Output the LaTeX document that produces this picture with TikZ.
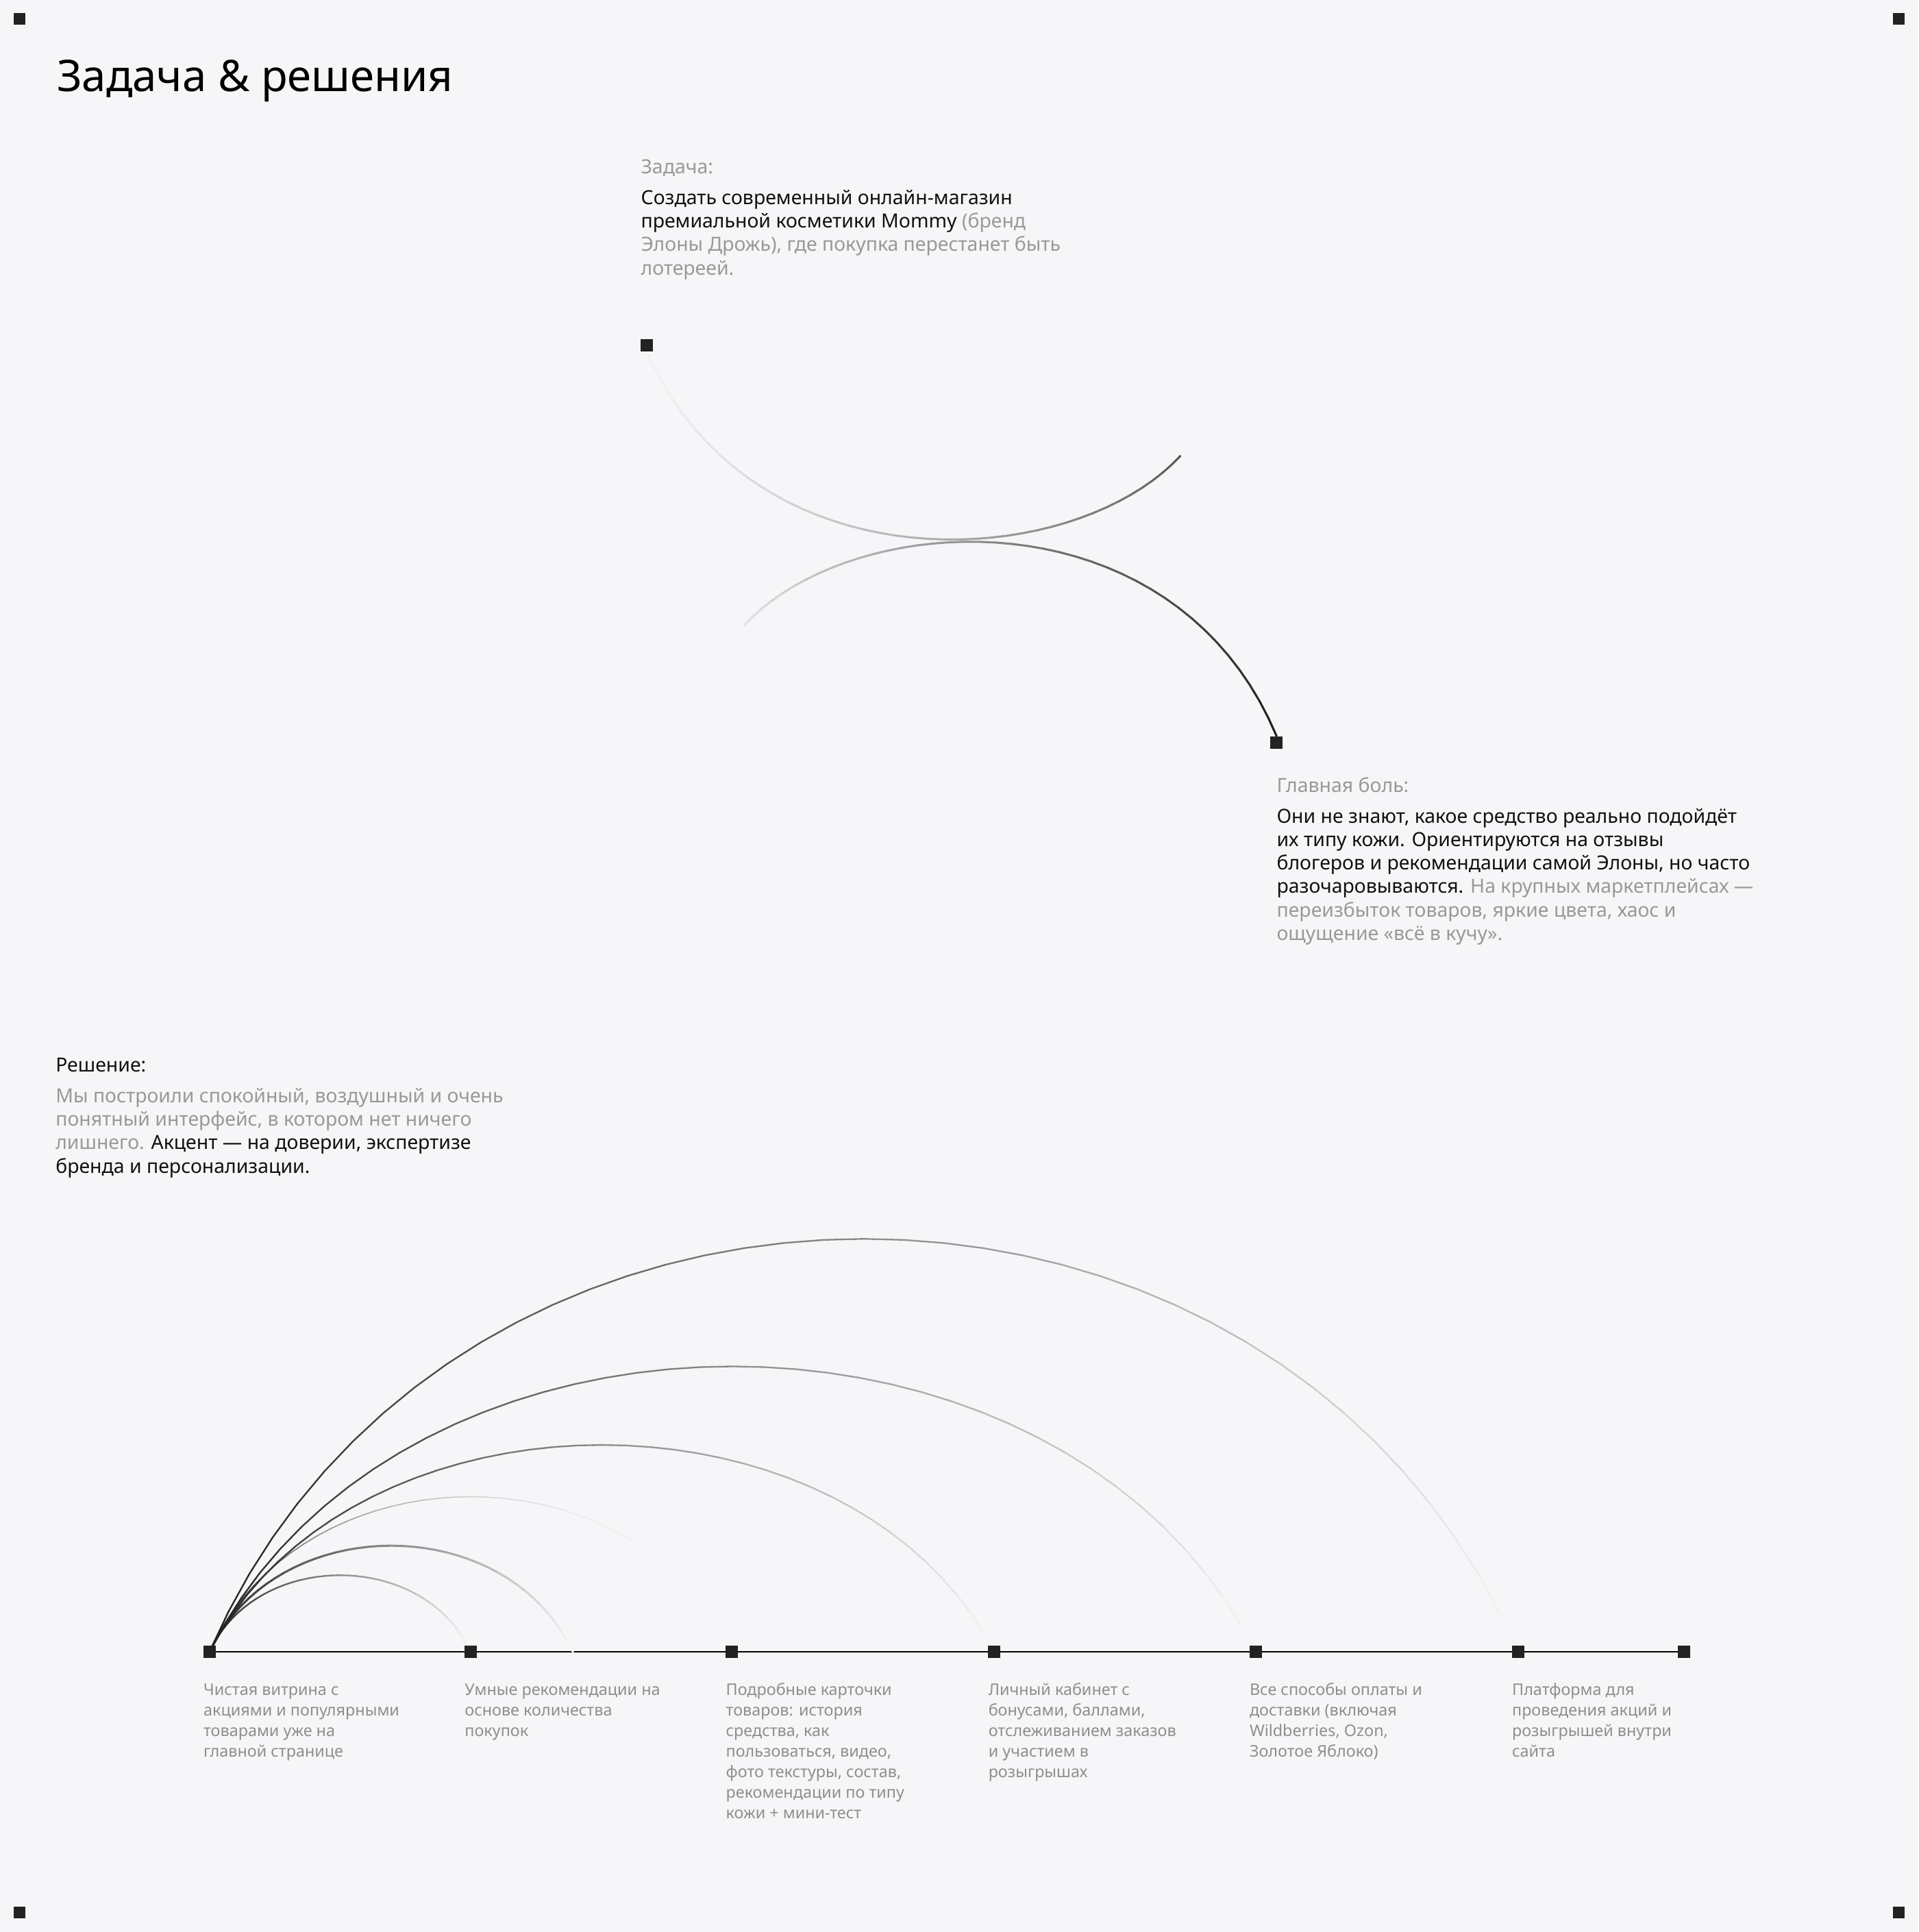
\documentclass[tikz,border=0pt]{standalone}
\usepackage{fontspec}
\setmainfont{Noto Sans}
\usetikzlibrary{backgrounds}

\definecolor{bgc}{HTML}{F6F6F8}
\definecolor{sqc}{HTML}{222222}
\definecolor{dimc}{HTML}{999999}
\definecolor{inkc}{HTML}{111111}
\definecolor{notec}{HTML}{8E8E8E}

\tikzset{
  sq/.style={fill=sqc, minimum size=10pt, inner sep=0pt},
  corner/.style={fill=sqc, minimum size=9.5pt, inner sep=0pt},
  para/.style={anchor=base west, inner sep=0pt, align=left, text=inkc, font=\fontsize{15.8}{19}\selectfont},
  note/.style={anchor=base west, inner sep=0pt, align=left, text=notec, font=\fontsize{13}{16.7}\selectfont},
  seg/.style={line width=1.7pt, line cap=round},
}

\begin{document}
\begin{tikzpicture}[x=1pt,y=-1pt]

% corner marks
\node[corner] (c1) at (16,15.5) {};
\node[corner] (c2) at (1541,15.5) {};
\node[corner] (c3) at (16,1552) {};
\node[corner] (c4) at (1541,1552) {};

\node[anchor=base west, inner sep=0pt, font=\fontsize{35.3}{40}\selectfont] (title) at (46,74) {Задача \& решения};

% task (multi-line nodes sit on their last baseline)
\node[para, text=dimc] (taskhead) at (520,141) {Задача:};
\node[para] (task) at (520,223) {Создать современный онлайн-магазин\\премиальной косметики Mommy \textcolor{dimc}{(бренд}\\\textcolor{dimc}{Элоны Дрожь), где покупка перестанет быть}\\\textcolor{dimc}{лотереей.}};

% pain
\node[para, text=dimc] (painhead) at (1036,643) {Главная боль:};
\node[para] (pain) at (1036,763) {Они не знают, какое средство реально подойдёт\\их типу кожи. Ориентируются на отзывы\\блогеров и рекомендации самой Элоны, но часто\\разочаровываются. \textcolor{dimc}{На крупных маркетплейсах —}\\\textcolor{dimc}{переизбыток товаров, яркие цвета, хаос и}\\\textcolor{dimc}{ощущение «всё в кучу».}};

% solution
\node[para] (solhead) at (45,870) {Решение:};
\node[para, text=dimc] (sol) at (45,952) {Мы построили спокойный, воздушный и очень\\понятный интерфейс, в котором нет ничего\\лишнего. \textcolor{inkc}{Акцент — на доверии, экспертизе}\\\textcolor{inkc}{бренда и персонализации.}};

\node[sq] (tA) at (525,280) {};
\node[sq] (tB) at (1036,602.5) {};
\coordinate (aEnd) at (958,370);
\coordinate (bStart) at (604,507.5);

% timeline
\foreach \n/\x in {0/170,1/382,2/594,3/807,4/1019,5/1232,6/1366.5}
  \node[sq] (s\n) at (\x,1340.7) {};
\coordinate (m2) at (465,1340.7);

\node[note] (n0) at (165,1426.1) {Чистая витрина с\\акциями и популярными\\товарами уже на\\главной странице};
\node[note] (n1) at (377,1409.4) {Умные рекомендации на\\основе количества\\покупок};
\node[note] (n2) at (589,1476.2) {Подробные карточки\\товаров: история\\средства, как\\пользоваться, видео,\\фото текстуры, состав,\\рекомендации по типу\\кожи + мини-тест};
\node[note] (n3) at (802,1442.8) {Личный кабинет с\\бонусами, баллами,\\отслеживанием заказов\\и участием в\\розыгрышах};
\node[note] (n4) at (1014,1426.1) {Все способы оплаты и\\доставки (включая\\Wildberries, Ozon,\\Золотое Яблоко)};
\node[note] (n5) at (1227,1426.1) {Платформа для\\проведения акций и\\розыгрышей внутри\\сайта};

\begin{scope}[on background layer]
  \fill[bgc] (0,0) rectangle (1557,1568);

  % upper pair of curves
  \path (tA.south) .. controls (610,480) and (870,465) .. (aEnd)
    \foreach \i in {0,...,40}{coordinate[pos=\i/40] (a\i)};
  \foreach \i [evaluate=\i as \j using int(\i+1), evaluate=\i as \c using int(2+62*(\i/39)^1.3)] in {0,...,39}
    \draw[seg, black!\c!bgc] (a\i) -- (a\j);
  \path (bStart) .. controls (692,412) and (952,397) .. (tB.north)
    \foreach \i in {0,...,40}{coordinate[pos=\i/40] (b\i)};
  \foreach \i [evaluate=\i as \j using int(\i+1), evaluate=\i as \c using int(8+80*\i/39)] in {0,...,39}
    \draw[seg, black!\c!bgc] (b\i) -- (b\j);

  \draw[line width=1.2pt, black] (s0.center) -- (s6.center);

  % arcs
  \foreach \k/\e/\a/\h/\p/\lw in {1/s1/38/83/1/1.3, 2/m2/54/115/1/1.7, 3/s2/77/168/2.5/0.9, 4/s3/116/224/1/1.3, 5/s4/155/309/1/1.3, 6/s5/194/447/1/1.3}{
    \path (s0.center) .. controls +(\a,-\h) and +(-\a,-\h) .. (\e.center)
      \foreach \i in {0,...,40}{coordinate[pos=\i/40] (q\k-\i)};
    \foreach \i [evaluate=\i as \j using int(\i+1), evaluate=\i as \c using int(88*(1-(\i+0.5)/40)^\p)] in {0,...,39}
      \draw[line cap=round, line width=\lw*1pt, black!\c!bgc] (q\k-\i) -- (q\k-\j);
  }
\end{scope}

\end{tikzpicture}
\end{document}
